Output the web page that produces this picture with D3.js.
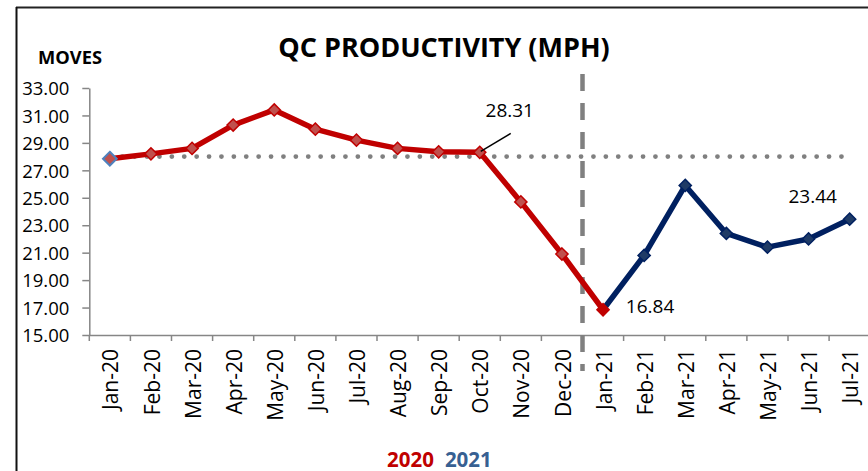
<!DOCTYPE html>
<html><head><meta charset="utf-8">
<script src="https://cdn.jsdelivr.net/npm/d3@7/dist/d3.min.js"></script>
<style>html,body{margin:0;padding:0;background:#fff;}svg{display:block;}</style>
</head><body>
<svg id="c" width="868" height="471"></svg>
<script>
const categories = ["Jan-20","Feb-20","Mar-20","Apr-20","May-20","Jun-20","Jul-20","Aug-20","Sep-20","Oct-20","Nov-20","Dec-20","Jan-21","Feb-21","Mar-21","Apr-21","May-21","Jun-21","Jul-21"];
const cats2020 = categories.slice(0, 13);
const values2020 = [27.85, 28.2, 28.6, 30.3, 31.4, 30.0, 29.2, 28.6, 28.35, 28.31, 24.7, 20.9, 16.84];
const cats2021 = categories.slice(12);
const values2021 = [16.84, 20.8, 25.9, 22.4, 21.4, 22.0, 23.44];
const targetValue = 28;
const yTicks = [15,17,19,21,23,25,27,29,31,33];
const dataLabels = [
  {cat:"Oct-20", value:28.31, text:"28.31"},
  {cat:"Jan-21", value:16.84, text:"16.84"},
  {cat:"Jul-21", value:23.44, text:"23.44"}
];
const legendItems = [{label:"2020", color:"#C00000"},{label:"2021", color:"#376092"}];

const svg = d3.select("#c");
const F = "'Open Sans', 'DejaVu Sans', sans-serif";
const left = 89.3, bandW = 41.1;
const x = d3.scaleBand().domain(categories).range([left, left + bandW*categories.length]).padding(0);
const y = d3.scaleLinear().domain([15,33]).range([335,88]);
const cx = c => x(c) + x.bandwidth()/2;

// frame
svg.append("line").attr("x1",16).attr("x2",868).attr("y1",7.5).attr("y2",7.5).attr("stroke","#222").attr("stroke-width",2);
svg.append("line").attr("x1",16.5).attr("x2",16.5).attr("y1",7).attr("y2",471).attr("stroke","#111").attr("stroke-width",2);

// title
svg.append("text").attr("x",444).attr("y",57).attr("text-anchor","middle")
  .attr("font-family",F).attr("font-weight","bold").attr("font-size",27).attr("fill","#000").text("QC PRODUCTIVITY (MPH)");
svg.append("text").attr("x",38).attr("y",64.3).attr("font-family",F).attr("font-weight","bold").attr("font-size",18.3).attr("fill","#000").text("MOVES");

// y axis
const yAxis = svg.append("g").attr("transform",`translate(${left},0)`)
  .call(d3.axisLeft(y).tickValues(yTicks).tickSize(7).tickSizeOuter(0).tickFormat(d3.format(".2f")));
yAxis.select(".domain").attr("stroke","#868686").attr("stroke-width",1.5);
yAxis.selectAll(".tick line").attr("stroke","#868686").attr("stroke-width",1.5);
yAxis.selectAll(".tick text").attr("font-family",F).attr("font-size",18.5).attr("fill","#000").attr("x",-20).attr("dy","0.36em");

// x axis
const xAxis = svg.append("g").attr("transform","translate(0,335)")
  .call(d3.axisBottom(x).tickSize(0).tickSizeOuter(0));
xAxis.select(".domain").attr("stroke","#868686").attr("stroke-width",1.5).attr("d",`M${left},0.5H868`);
xAxis.selectAll(".tick text").attr("font-family",F).attr("font-size",21).attr("fill","#000")
  .attr("text-anchor","end").attr("transform","rotate(-90)").attr("x",-14).attr("y",1).attr("dy","0.36em");
const boundaries = categories.map(c => x(c)).concat([x(categories[categories.length-1]) + x.bandwidth()]);
svg.append("g").selectAll("line").data(boundaries).join("line")
  .attr("x1",d=>d).attr("x2",d=>d).attr("y1",335).attr("y2",341).attr("stroke","#868686").attr("stroke-width",1.5);

// target dotted line
svg.append("line").attr("x1",cx(categories[0])).attr("x2",cx(categories[categories.length-1]))
  .attr("y1",y(targetValue)).attr("y2",y(targetValue))
  .attr("stroke","#808080").attr("stroke-width",4.8).attr("stroke-linecap","round").attr("stroke-dasharray","0 12.4");

// vertical dashed separator
const sepX = x("Jan-21");
svg.append("line").attr("x1",sepX).attr("x2",sepX).attr("y1",74).attr("y2",371)
  .attr("stroke","#808080").attr("stroke-width",4.5).attr("stroke-dasharray","17 12");

const diamond = d3.symbol().type(d3.symbolDiamond2).size(95);
const line = d3.line();

// 2021 series
const pts21 = cats2021.map((c,i)=>[cx(c), y(values2021[i])]);
svg.append("path").attr("d",line(pts21)).attr("fill","none").attr("stroke","#002060").attr("stroke-width",5.5).attr("stroke-linejoin","round");
svg.append("g").selectAll("path").data(pts21.slice(1)).join("path")
  .attr("d",diamond).attr("transform",d=>`translate(${d[0]},${d[1]})`)
  .attr("fill","#1F3B66").attr("stroke","#002060").attr("stroke-width",1.5);

// 2020 series
const pts20 = cats2020.map((c,i)=>[cx(c), y(values2020[i])]);
svg.append("path").attr("d",line(pts20)).attr("fill","none").attr("stroke","#C00000").attr("stroke-width",5.5).attr("stroke-linejoin","round");
svg.append("g").selectAll("path").data(pts20).join("path")
  .attr("d",(d,i)=> i===0 ? d3.symbol().type(d3.symbolDiamond2).size(120)() : diamond())
  .attr("transform",d=>`translate(${d[0]},${d[1]})`)
  .attr("fill",(d,i)=> i===pts20.length-1 ? "#C00000" : "#C0504D")
  .attr("stroke",(d,i)=> i===0 ? "#4F81BD" : "#C00000").attr("stroke-width",(d,i)=> i===0 ? 2 : 1.5);

// data labels
const labelOffsets = {"Oct-20":[30,-35], "Jan-21":[47,3], "Jul-21":[-37,-16]};
dataLabels.forEach(d=>{
  const px = cx(d.cat), py = y(d.value);
  const o = labelOffsets[d.cat];
  svg.append("text").attr("x",px+o[0]).attr("y",py+o[1]).attr("text-anchor","middle")
    .attr("font-family",F).attr("font-size",19).attr("fill","#000").text(d.text);
});
// leader line for 28.31
{
  const px = cx("Oct-20"), py = y(28.31);
  svg.append("line").attr("x1",px+1).attr("y1",py-1).attr("x2",px+31).attr("y2",py-19).attr("stroke","#000").attr("stroke-width",1.5);
}

// legend
let lx = 387;
legendItems.forEach(it=>{
  const t = svg.append("text").attr("x",lx).attr("y",466.5).attr("font-family",F).attr("font-weight","bold")
    .attr("font-size",20.5).attr("fill",it.color).text(it.label);
  lx += t.node().getComputedTextLength() + 11;
});
</script>
</body></html>
